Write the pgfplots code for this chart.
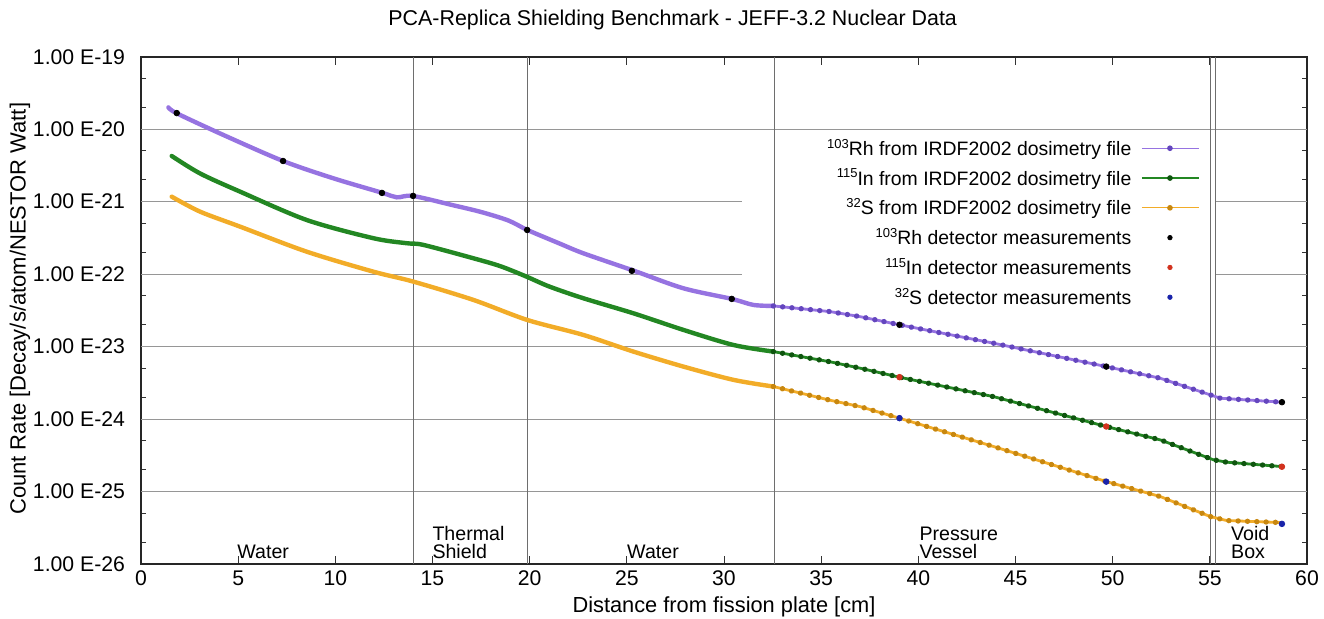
\documentclass[border=0pt]{standalone}
\usepackage{pgfplots}
\pgfplotsset{compat=1.18}
\usepackage{fontspec}
\setmainfont{Liberation Sans}
\definecolor{rh}{RGB}{150,115,225}
\definecolor{rhd}{RGB}{100,70,190}
\definecolor{inn}{RGB}{35,135,35}
\definecolor{innd}{RGB}{15,85,15}
\definecolor{ss}{RGB}{242,172,40}
\definecolor{ssd}{RGB}{200,135,15}
\definecolor{gridc}{RGB}{150,150,150}
\definecolor{vline}{RGB}{110,110,110}
\definecolor{mred}{RGB}{210,50,30}
\definecolor{mblue}{RGB}{25,35,170}
\newcommand{\sups}[1]{\raisebox{3.6pt}{\fontsize{6.5}{7}\selectfont #1}}
\tikzset{
  solidc/.style={line width=2.2pt, smooth, line cap=round},
  beaded/.style 2 args={draw=#1, line width=1.4pt, line cap=round,
     postaction={draw=#2, line width=2.7pt, line cap=round, dash pattern=on 0.01pt off 4.65pt}},
}
\begin{document}
\fontsize{10}{12}\selectfont
\begin{tikzpicture}
\begin{axis}[
  scale only axis, width=583pt, height=253.65pt,
  ymode=log, xmin=0, xmax=60, ymin=1e-26, ymax=1e-19,
  xtick={0,5,...,60},
  ytick={1e-26,1e-25,1e-24,1e-23,1e-22,1e-21,1e-20,1e-19},
  yticklabels={1.00 E-26,1.00 E-25,1.00 E-24,1.00 E-23,1.00 E-22,1.00 E-21,1.00 E-20,1.00 E-19},
  minor ytick={2e-26,5e-26,2e-25,5e-25,2e-24,5e-24,2e-23,5e-23,2e-22,5e-22,2e-21,5e-21,2e-20,5e-20},
  /pgf/number format/assume math mode=true,
  tick style={black!80, line width=0.5pt},
  major tick length=4pt, minor tick length=2.5pt,
  axis line style={black!85, line width=0.8pt},
  ticklabel style={font=\fontsize{10.6}{12}\selectfont},
  yticklabel style={xshift=-4.5pt},
  clip=false,
  legend image code/.code={\draw[mark repeat=2,mark phase=2,#1] plot coordinates {(0pt,0pt) (14pt,0pt) (28.5pt,0pt)};},
  legend plot pos=right,
  legend cell align=right,
  legend style={at={(rel axis cs:0.9082,0.846)}, anchor=north east, draw=none, fill=none,
     inner sep=0pt, font=\fontsize{9.7}{12}\selectfont, row sep=1.9pt,
     nodes={inner sep=0pt, text height=10pt, text depth=3pt},
     /tikz/every odd column/.append style={column sep=5pt}},
]
% grid lines
\addplot[gridc, line width=0.5pt, forget plot] coordinates {(0,1e-20) (60,1e-20)};
\addplot[gridc, line width=0.5pt, forget plot] coordinates {(0,1e-21) (30.93,1e-21)};
\addplot[gridc, line width=0.5pt, forget plot] coordinates {(55.3,1e-21) (60,1e-21)};
\addplot[gridc, line width=0.5pt, forget plot] coordinates {(0,1e-22) (30.93,1e-22)};
\addplot[gridc, line width=0.5pt, forget plot] coordinates {(55.3,1e-22) (60,1e-22)};
\addplot[gridc, line width=0.5pt, forget plot] coordinates {(0,1e-23) (60,1e-23)};
\addplot[gridc, line width=0.5pt, forget plot] coordinates {(0,1e-24) (60,1e-24)};
\addplot[gridc, line width=0.5pt, forget plot] coordinates {(0,1e-25) (60,1e-25)};
% region boundaries
\addplot[vline, line width=0.5pt, forget plot] coordinates {(14.0,1e-26) (14.0,1e-19)};
\addplot[vline, line width=0.5pt, forget plot] coordinates {(19.9,1e-26) (19.9,1e-19)};
\addplot[vline, line width=0.5pt, forget plot] coordinates {(32.58,1e-26) (32.58,1e-19)};
\addplot[vline, line width=0.5pt, forget plot] coordinates {(55.05,1e-26) (55.05,1e-19)};
\addplot[vline, line width=0.5pt, forget plot] coordinates {(55.27,1e-26) (55.27,1e-19)};
% legend images
\addlegendimage{rh, line width=0.6pt, mark=*, mark size=1.1pt, mark options={fill=rhd, draw=rhd}}
\addlegendentry{\sups{103}Rh from IRDF2002 dosimetry file}
\addlegendimage{inn, line width=0.6pt, mark=*, mark size=1.1pt, mark options={fill=innd, draw=innd}}
\addlegendentry{\sups{115}In from IRDF2002 dosimetry file}
\addlegendimage{ss, line width=0.6pt, mark=*, mark size=1.1pt, mark options={fill=ssd, draw=ssd}}
\addlegendentry{\sups{32}S from IRDF2002 dosimetry file}
\addlegendimage{only marks, mark=*, mark size=1.1pt, black}
\addlegendentry{\sups{103}Rh detector measurements}
\addlegendimage{only marks, mark=*, mark size=1.1pt, mred}
\addlegendentry{\sups{115}In detector measurements}
\addlegendimage{only marks, mark=*, mark size=1.1pt, mblue}
\addlegendentry{\sups{32}S detector measurements}
% Rh curve
\addplot[rh, solidc, forget plot] coordinates {
(1.41,2.00e-20)(1.84,1.656e-20)(4.24,8.32e-21)(7.31,3.64e-21)(9.9,2.10e-21)
(12.39,1.33e-21)(13.16,1.148e-21)(13.98,1.20e-21)(16.0,9.0e-22)(17.5,7.2e-22)(18.9,5.5e-22)
(19.88,4.07e-22)(21.56,2.63e-22)(22.76,1.94e-22)(25.39,1.107e-22)(27.91,6.38e-23)
(30.40,4.55e-23)(31.51,3.76e-23)(32.54,3.64e-23)};
\addplot[beaded={rh}{rhd}, forget plot] coordinates {
(32.54,3.64e-23)(35.46,3.04e-23)(37.0,2.59e-23)(39.03,2.00e-23)(43.87,1.114e-23)
(49.67,5.30e-24)(52.45,3.66e-24)(55.02,2.16e-24)(55.54,1.94e-24)(58.71,1.71e-24)};
% In curve
\addplot[inn, solidc, forget plot] coordinates {
(1.58,4.27e-21)(3.04,2.45e-21)(5.10,1.374e-21)(8.53,5.58e-22)(11.96,3.13e-22)
(13.67,2.67e-22)(14.53,2.53e-22)(17.10,1.656e-22)(18.48,1.29e-22)(19.8,9.33e-23)
(21.0,6.76e-23)(22.76,4.65e-23)(25.34,2.88e-23)(27.91,1.70e-23)(30.48,1.054e-23)(32.54,8.53e-24)};
\addplot[beaded={inn}{innd}, forget plot] coordinates {
(32.54,8.53e-24)(35.46,6.17e-24)(37.0,5.04e-24)(39.03,3.78e-24)(43.87,2.04e-24)
(49.67,7.89e-25)(52.45,5.16e-25)(55.19,2.74e-25)(55.87,2.54e-25)(58.71,2.21e-25)};
% S curve
\addplot[ss, solidc, forget plot] coordinates {
(1.58,1.172e-21)(3.04,7.28e-22)(5.10,4.52e-22)(8.53,2.04e-22)(11.96,1.081e-22)
(14.01,7.89e-23)(17.10,4.41e-23)(19.88,2.33e-23)(22.76,1.449e-23)
(25.34,8.53e-24)(27.91,5.30e-24)(30.48,3.48e-24)(32.54,2.81e-24)};
\addplot[beaded={ss}{ssd}, forget plot] coordinates {
(32.54,2.81e-24)(35.46,1.82e-24)(37.0,1.486e-24)(39.03,1.028e-24)(43.87,4.18e-25)
(49.67,1.374e-25)(52.45,8.53e-26)(55.02,4.52e-26)(55.87,3.98e-26)(58.71,3.73e-26)};
% measurements
\addplot[only marks, mark=*, mark size=1.4pt, black, forget plot] coordinates {
(1.84,1.67e-20)(7.31,3.64e-21)(12.40,1.32e-21)(14.0,1.20e-21)(19.87,4.07e-22)
(25.26,1.11e-22)(30.40,4.55e-23)(39.03,2.0e-23)(49.67,5.3e-24)(58.71,1.71e-24)};
\addplot[only marks, mark=*, mark size=1.4pt, mred, forget plot] coordinates {
(39.03,3.79e-24)(49.67,7.9e-25)(58.71,2.2e-25)};
\addplot[only marks, mark=*, mark size=1.4pt, mblue, forget plot] coordinates {
(39.03,1.03e-24)(49.67,1.37e-25)(58.71,3.58e-26)};
% region labels
\begin{scope}[every node/.style={anchor=base west, inner sep=0pt, font=\fontsize{9.8}{12}\selectfont}]
\node at (axis cs:4.94,1.18e-26) {Water};
\node at (axis cs:14.98,2.09e-26) {Thermal};
\node at (axis cs:14.98,1.18e-26) {Shield};
\node at (axis cs:25.0,1.18e-26) {Water};
\node at (axis cs:40.04,2.09e-26) {Pressure};
\node at (axis cs:40.04,1.18e-26) {Vessel};
\node at (axis cs:56.08,2.09e-26) {Void};
\node at (axis cs:56.08,1.18e-26) {Box};
\end{scope}
% titles
\node[anchor=base, font=\fontsize{10.7}{12}\selectfont] at ([yshift=15.6pt]rel axis cs:0.456,1) {PCA-Replica Shielding Benchmark - JEFF-3.2 Nuclear Data};
\node[anchor=base, font=\fontsize{10.9}{12}\selectfont] at ([yshift=-24pt]rel axis cs:0.5,0) {Distance from fission plate [cm]};
\node[anchor=center, rotate=90, font=\fontsize{11}{12}\selectfont] at ([xshift=-60.5pt]rel axis cs:0,0.503) {Count Rate [Decay/s/atom/NESTOR Watt]};
\end{axis}
\pgfresetboundingbox
\useasboundingbox (-70.5pt,-27.5pt) rectangle (591.5pt,282pt);
\end{tikzpicture}
\end{document}
